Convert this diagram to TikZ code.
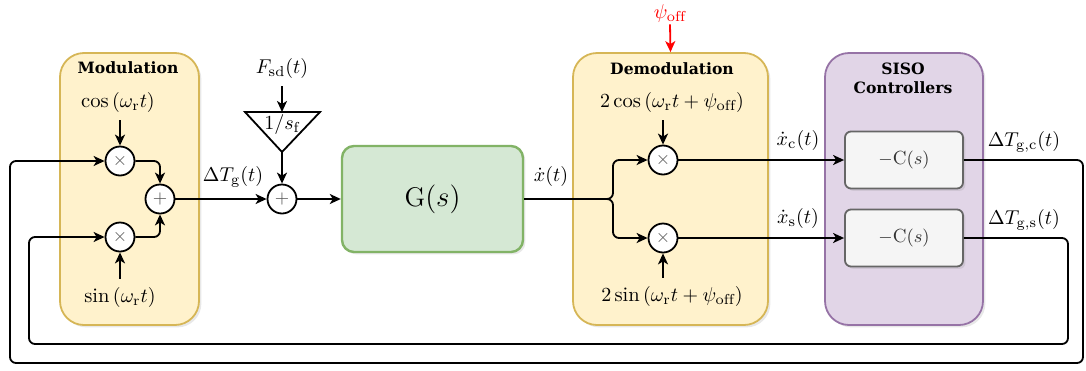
\documentclass[tikz,border=0pt]{standalone}
\usepackage{fontspec}
\newfontfamily\titlefont{DejaVu Serif}
\usetikzlibrary{arrows.meta,shadows}
\definecolor{modfill}{HTML}{FFF2CC}
\definecolor{moddraw}{HTML}{D6B656}
\definecolor{gfill}{HTML}{D5E8D4}
\definecolor{gdraw}{HTML}{82B366}
\definecolor{sfill}{HTML}{E1D5E7}
\definecolor{sdraw}{HTML}{9673A6}
\definecolor{cfill}{HTML}{F5F5F5}
\definecolor{cdraw}{HTML}{666666}
\begin{document}
\begin{tikzpicture}[x=0.5pt,y=-0.5pt,
  shad/.style={drop shadow={opacity=0.18, shadow xshift=1.2pt, shadow yshift=-1.2pt}},
  group/.style={draw, line width=0.9pt, rounded corners=12pt, inner sep=0pt, minimum height=136pt, shad},
  gbox/.style={draw=gdraw, fill=gfill, line width=1.2pt, rounded corners=6pt, minimum width=90.5pt, minimum height=53pt, font=\fontsize{13.5}{15}\selectfont, shad},
  cbox/.style={draw=cdraw, fill=cfill, line width=0.9pt, rounded corners=3pt, minimum width=59pt, minimum height=28.5pt, text=black!80, font=\fontsize{9.5}{11}\selectfont, shad},
  mult/.style={circle, draw, fill=white, line width=0.9pt, minimum size=14.5pt, inner sep=0pt, font=\small, text=black!65},
  arr/.style={-{Stealth[length=5.5pt,width=5pt,inset=1.5pt]}, line width=0.9pt},
  wire/.style={arr, rounded corners=3pt},
  lbl/.style={font=\fontsize{10.3}{12}\selectfont, inner sep=1pt},
  ttl/.style={font=\titlefont\bfseries\fontsize{7.8}{9.5}\selectfont, align=center, inner sep=1pt}
]
\useasboundingbox (0,0) rectangle (1086,370);

% group boxes
\node[group, draw=moddraw, fill=modfill, minimum width=69.5pt] (mod) at (129.5,189) {};
\node[group, draw=moddraw, fill=modfill, minimum width=97.5pt] (demod) at (670.5,189) {};
\node[group, draw=sdraw, fill=sfill, minimum width=79pt] (siso) at (904,189) {};

\node[ttl] (modtitle) at (128,68) {Modulation};
\node[ttl] (demodtitle) at (672,69) {Demodulation};
\node[ttl] (sisotitle) at (903,78) {SISO\\Controllers};

% modulation
\node[lbl] (modcos) at (118,102) {$\cos\left(\omega_{\mathrm{r}}t\right)$};
\node[lbl] (modsin) at (120,297) {$\sin\left(\omega_{\mathrm{r}}t\right)$};
\node[mult] (mx1) at (120,161) {$\times$};
\node[mult] (mx2) at (120,237) {$\times$};
\node[mult] (ms) at (160,199) {$+$};

% force input
\node[lbl] (Fsd) at (282,68) {$F_{\mathrm{sd}}(t)$};
\coordinate (triL) at (245,112);
\coordinate (triR) at (320,112);
\coordinate (triA) at (282,152);
\coordinate (triT) at (282,112);
\draw[line width=0.9pt, fill=white, line join=miter] (triL) -- (triR) -- (triA) -- cycle;
\node[lbl] (tri) at (282,124) {$1/s_{\mathrm{f}}$};
\node[mult] (s2) at (282,199) {$+$};

% plant
\node[gbox] (G) at (432.5,199) {$\mathrm{G}(s)$};

% demodulation
\node[lbl, text=red] (psi) at (670,13) {$\psi_{\mathrm{off}}$};
\node[lbl] (dcos) at (672,102) {$2\cos\left(\omega_{\mathrm{r}}t+\psi_{\mathrm{off}}\right)$};
\node[lbl] (dsin) at (672,296) {$2\sin\left(\omega_{\mathrm{r}}t+\psi_{\mathrm{off}}\right)$};
\node[mult] (dx1) at (663,160) {$\times$};
\node[mult] (dx2) at (663,238) {$\times$};
\coordinate (brx) at (613,0);

% controllers
\node[cbox] (C1) at (904,160) {$-\mathrm{C}(s)$};
\node[cbox] (C2) at (904,238) {$-\mathrm{C}(s)$};

% signal labels
\node[lbl] (dTg) at (233,177) {$\Delta T_{\mathrm{g}}(t)$};
\node[lbl] (xdot) at (551,176) {$\dot{x}(t)$};
\node[lbl] (xc) at (798,140) {$\dot{x}_{\mathrm{c}}(t)$};
\node[lbl] (xs) at (798,218) {$\dot{x}_{\mathrm{s}}(t)$};
\node[lbl] (dTgc) at (1024,142) {$\Delta T_{\mathrm{g,c}}(t)$};
\node[lbl] (dTgs) at (1024,220) {$\Delta T_{\mathrm{g,s}}(t)$};

% return path corners
\coordinate (R1) at (1083,363);
\coordinate (L1) at (10,363);
\coordinate (R2) at (1068,344);
\coordinate (L2) at (29,344);

% connectors
\draw[arr, shorten <=3pt] (mx1.north |- modcos.south) -- (mx1.north);
\draw[arr, shorten <=3pt] (mx2.south |- modsin.north) -- (mx2.south);
\draw[wire] (mx1.east) -| (ms.north);
\draw[wire] (mx2.east) -| (ms.south);
\draw[arr] (ms.east) -- (s2.west);
\draw[arr, shorten <=3pt] (Fsd.south) -- (triT);
\draw[arr] (triA) -- (s2.north);
\draw[arr] (s2.east) -- (G.west);
\draw[wire] (G.east) -- (G.east -| brx) |- (dx1.west);
\draw[wire] (G.east) -- (G.east -| brx) |- (dx2.west);
\draw[arr, draw=red] (psi.south) -- (demod.north);
\draw[arr, shorten <=3pt] (dx1.north |- dcos.south) -- (dx1.north);
\draw[arr, shorten <=3pt] (dx2.south |- dsin.north) -- (dx2.south);
\draw[arr] (dx1.east) -- (C1.west);
\draw[arr] (dx2.east) -- (C2.west);
\draw[wire] (C1.east) -- (C1.east -| R1) |- (L1) |- (mx1.west);
\draw[wire] (C2.east) -- (C2.east -| R2) |- (L2) |- (mx2.west);
\end{tikzpicture}
\end{document}
